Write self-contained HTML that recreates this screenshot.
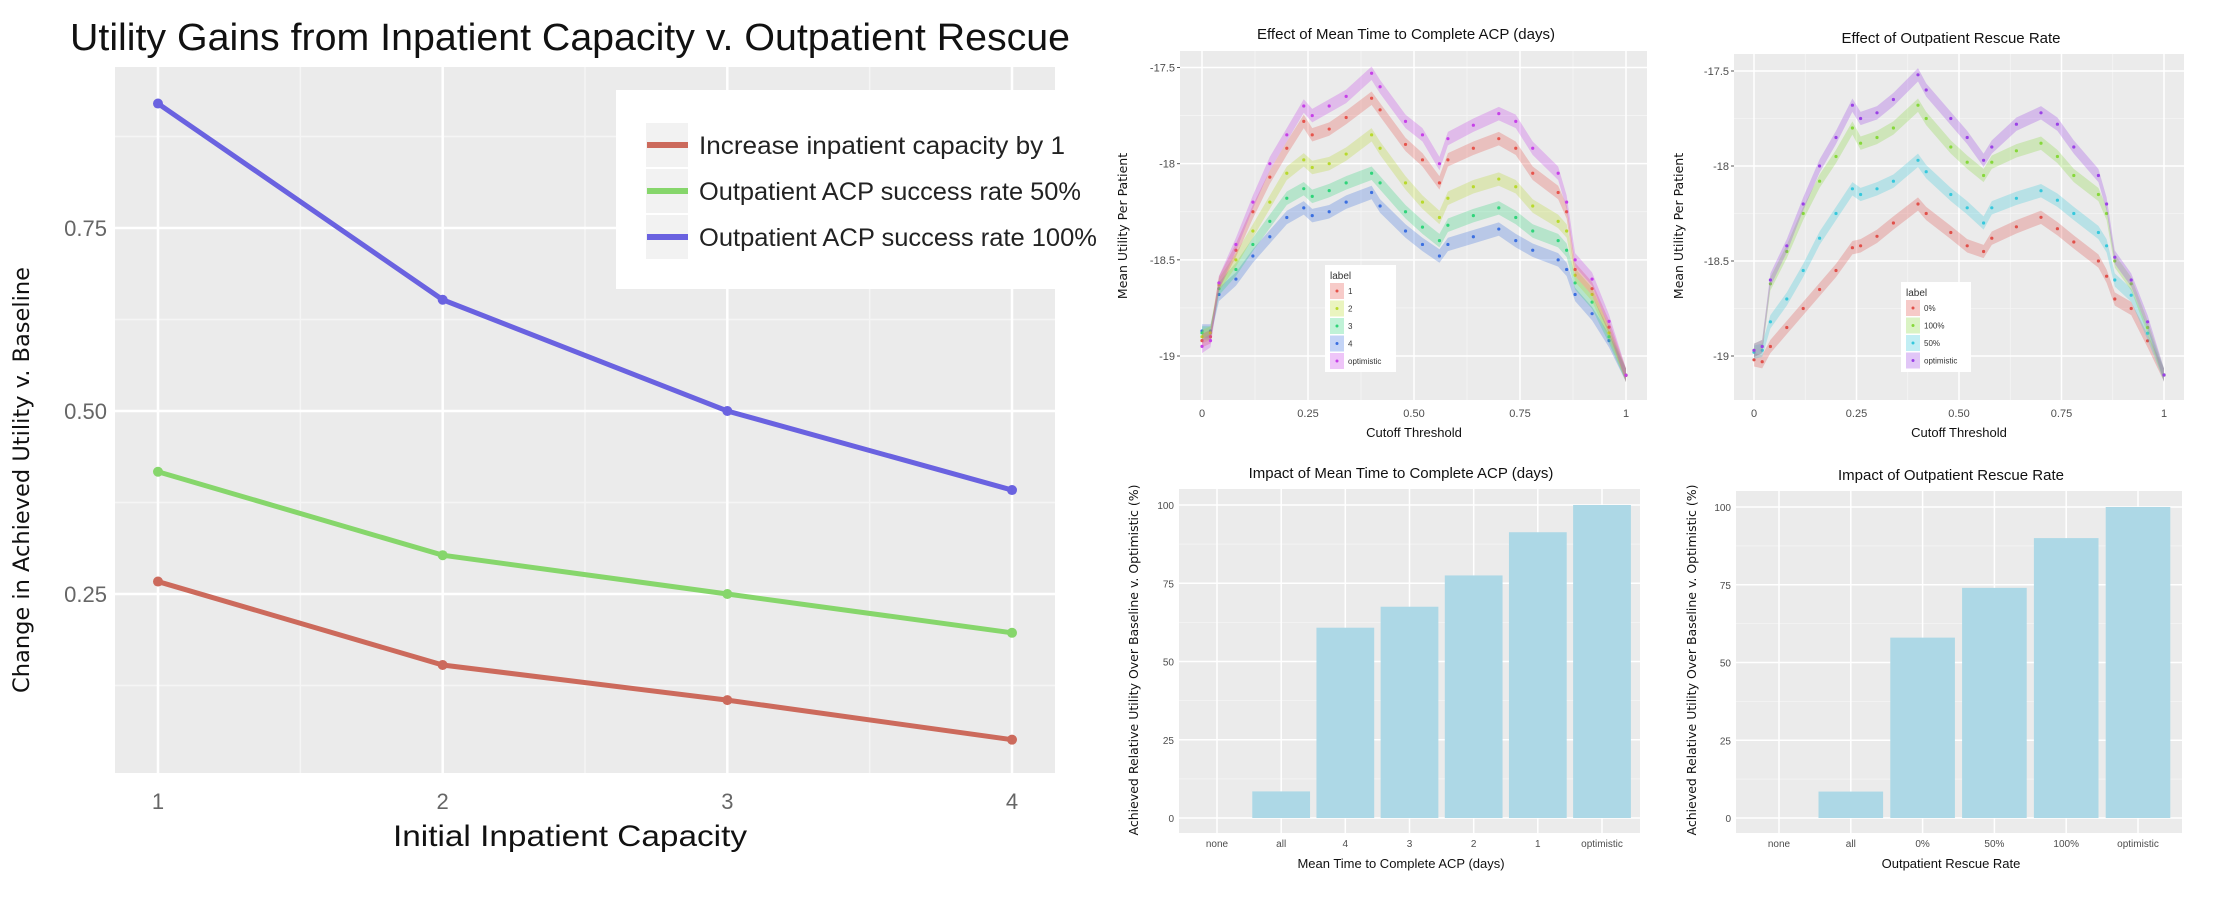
<!DOCTYPE html>
<html><head><meta charset="utf-8"><style>
html,body{margin:0;padding:0;background:#fff}
svg{display:block}
text{font-family:"Liberation Sans",sans-serif}
</style></head><body>
<svg id="svg" width="2234" height="902" xmlns="http://www.w3.org/2000/svg"></svg>
<script>
// ---------- Left line chart data ----------
const capCats = [1, 2, 3, 4];
const capRed = [0.267, 0.153, 0.105, 0.051];
const capGreen = [0.417, 0.303, 0.25, 0.197];
const capBlue = [0.92, 0.652, 0.50, 0.392];
const capTicks = [0.25, 0.50, 0.75];
const capLegend = ["Increase inpatient capacity by 1", "Outpatient ACP success rate 50%", "Outpatient ACP success rate 100%"];

// ---------- Cutoff charts data ----------
const cutX = [0,0.02,0.04,0.08,0.12,0.16,0.2,0.24,0.26,0.3,0.34,0.4,0.42,0.48,0.52,0.56,0.58,0.64,0.7,0.74,0.78,0.84,0.86,0.88,0.92,0.96,1.0];
const aLabels = ["1","2","3","4","optimistic"];
const aS1 = [-18.92,-18.9,-18.62,-18.45,-18.25,-18.07,-17.92,-17.78,-17.85,-17.82,-17.76,-17.66,-17.72,-17.9,-17.98,-18.1,-17.98,-17.92,-17.87,-17.92,-18.05,-18.15,-18.25,-18.55,-18.65,-18.85,-19.1];
const aS2 = [-18.9,-18.88,-18.63,-18.5,-18.35,-18.2,-18.05,-17.98,-18.02,-18.0,-17.95,-17.85,-17.92,-18.1,-18.2,-18.28,-18.18,-18.12,-18.08,-18.12,-18.22,-18.3,-18.35,-18.58,-18.68,-18.88,-19.1];
const aS3 = [-18.88,-18.88,-18.65,-18.55,-18.42,-18.3,-18.18,-18.13,-18.17,-18.14,-18.1,-18.05,-18.1,-18.25,-18.33,-18.4,-18.32,-18.27,-18.23,-18.28,-18.35,-18.4,-18.45,-18.62,-18.72,-18.9,-19.1];
const aS4 = [-18.87,-18.87,-18.68,-18.6,-18.48,-18.38,-18.28,-18.23,-18.27,-18.25,-18.2,-18.15,-18.22,-18.35,-18.42,-18.48,-18.42,-18.38,-18.34,-18.4,-18.45,-18.5,-18.55,-18.68,-18.78,-18.92,-19.1];
const aOpt = [-18.95,-18.92,-18.62,-18.42,-18.2,-18.0,-17.85,-17.7,-17.75,-17.7,-17.65,-17.53,-17.6,-17.78,-17.85,-18.0,-17.87,-17.8,-17.74,-17.78,-17.92,-18.05,-18.2,-18.5,-18.6,-18.82,-19.1];
const bLabels = ["0%","100%","50%","optimistic"];
const b0 = [-19.02,-19.03,-18.95,-18.85,-18.75,-18.65,-18.55,-18.43,-18.42,-18.37,-18.3,-18.2,-18.25,-18.35,-18.42,-18.45,-18.38,-18.32,-18.27,-18.33,-18.4,-18.5,-18.58,-18.7,-18.75,-18.92,-19.1];
const b100 = [-18.97,-18.95,-18.62,-18.45,-18.25,-18.08,-17.95,-17.8,-17.88,-17.85,-17.8,-17.68,-17.75,-17.9,-17.98,-18.05,-17.98,-17.92,-17.88,-17.95,-18.05,-18.15,-18.25,-18.5,-18.62,-18.85,-19.1];
const b50 = [-18.98,-18.97,-18.82,-18.7,-18.55,-18.38,-18.25,-18.12,-18.15,-18.12,-18.08,-17.97,-18.03,-18.15,-18.22,-18.3,-18.22,-18.17,-18.13,-18.18,-18.25,-18.35,-18.42,-18.6,-18.68,-18.88,-19.1];
const bOpt = [-18.97,-18.95,-18.6,-18.42,-18.2,-18.0,-17.85,-17.68,-17.75,-17.72,-17.65,-17.52,-17.6,-17.75,-17.85,-17.97,-17.9,-17.78,-17.72,-17.78,-17.9,-18.05,-18.2,-18.48,-18.6,-18.82,-19.1];
const cutXTicks = [0,0.25,0.5,0.75,1];
const cutXTickLabels = ["0","0.25","0.50","0.75","1"];
const cutYTicks = [-17.5,-18,-18.5,-19];
const cutYTickLabels = ["-17.5","-18","-18.5","-19"];

// ---------- Bar charts data ----------
const cCats = ["none","all","4","3","2","1","optimistic"];
const cVals = [0, 8.5, 60.8, 67.5, 77.5, 91.3, 100];
const dCats = ["none","all","0%","50%","100%","optimistic"];
const dVals = [0, 8.5, 58, 74, 90, 100];
const barTicks = [0,25,50,75,100];

const NS="http://www.w3.org/2000/svg";
const svg=document.getElementById('svg');
function mk(tag,attrs,parent,txt){const e=document.createElementNS(NS,tag);for(const k in attrs)e.setAttribute(k,attrs[k]);if(txt!==undefined)e.textContent=txt;(parent||svg).appendChild(e);return e;}
function lin(d0,d1,r0,r1){return v=>r0+(v-d0)/(d1-d0)*(r1-r0);}

// ===== Left chart =====
{
const g=mk('g',{});


const L=115,R=1055,T=67,B=773;
const x=lin(1,4,158,1012), y=lin(0.25,0.75,594,228);
const bg=mk('rect',{x:L,y:T,width:R-L,height:B-T,fill:'#ebebeb'},g);


[0.125,0.375,0.625,0.875].forEach(v=>mk('line',{x1:L,x2:R,y1:y(v),y2:y(v),stroke:'#f5f5f5','stroke-width':1.5},g));
[1.5,2.5,3.5].forEach(v=>mk('line',{x1:x(v),x2:x(v),y1:T,y2:B,stroke:'#f5f5f5','stroke-width':1.5},g));
capTicks.forEach(v=>{mk('line',{x1:L,x2:R,y1:y(v),y2:y(v),stroke:'#fff','stroke-width':2.5},g);
 const t=mk('text',{x:L-8,y:y(v)+8,'text-anchor':'end','font-size':22,fill:'#666'},g,v.toFixed(2));
 });
capCats.forEach(c=>{mk('line',{x1:x(c),x2:x(c),y1:T,y2:B,stroke:'#fff','stroke-width':2.5},g);
 const t=mk('text',{x:x(c),y:B+36,'text-anchor':'middle','font-size':22,fill:'#666'},g,String(c));
 });
const cols=['#cc6a5c','#86d66b','#6a62e0'];
[capRed,capGreen,capBlue].forEach((s,i)=>{
 const p=mk('polyline',{points:s.map((v,j)=>x(capCats[j])+','+y(v)).join(' '),fill:'none',stroke:cols[i],'stroke-width':5},g);
 
 s.forEach((v,j)=>{const c=mk('circle',{cx:x(capCats[j]),cy:y(v),r:5,fill:cols[i]},g);
  });
});
const lg=mk('g',{},g);

mk('rect',{x:616,y:90,width:439,height:199,fill:'#fff'},lg);
const lens=[366,382,398];
capLegend.forEach((s,i)=>{const yy=145+i*46;
 mk('rect',{x:646,y:yy-22,width:42,height:44,fill:'#f2f2f2'},lg);
 mk('line',{x1:647,x2:688,y1:yy,y2:yy,stroke:cols[i],'stroke-width':6},lg);
 const t=mk('text',{x:699,y:yy+9,'font-size':25,fill:'#222',textLength:lens[i],lengthAdjust:'spacingAndGlyphs'},lg,s);
 });
const tt=mk('text',{x:570,y:50,'text-anchor':'middle','font-size':38,fill:'#111',textLength:1000,lengthAdjust:'spacingAndGlyphs'},g,'Utility Gains from Inpatient Capacity v. Outpatient Rescue');

const xl=mk('text',{x:570,y:846,'text-anchor':'middle','font-size':30,fill:'#111',textLength:354,lengthAdjust:'spacingAndGlyphs'},g,'Initial Inpatient Capacity');

const yl=mk('text',{x:0,y:0,'text-anchor':'middle','font-size':22.5,fill:'#111',transform:'translate(29,480) rotate(-90)',style:'font-family:"DejaVu Sans",sans-serif'},g,'Change in Achieved Utility v. Baseline');

}

// ===== Cutoff charts =====
function cutChart(cfg){
const g=mk('g',{});


const {L,R,T,B}=cfg;
const x=lin(0,1,cfg.x0,cfg.x1), y=lin(-17.5,-19,cfg.yTop,cfg.yBot);
mk('rect',{x:L,y:T,width:R-L,height:B-T,fill:'#ebebeb'},g);
[-17.75,-18.25,-18.75,-19.25].forEach(v=>{if(y(v)>T&&y(v)<B)mk('line',{x1:L,x2:R,y1:y(v),y2:y(v),stroke:'#f5f5f5','stroke-width':0.8},g);});
[0.125,0.375,0.625,0.875].forEach(v=>mk('line',{x1:x(v),x2:x(v),y1:T,y2:B,stroke:'#f5f5f5','stroke-width':0.8},g));
cutYTicks.forEach((v,i)=>{mk('line',{x1:L,x2:R,y1:y(v),y2:y(v),stroke:'#fff','stroke-width':1.5},g);
 mk('line',{x1:L-3,x2:L,y1:y(v),y2:y(v),stroke:'#555','stroke-width':1},g);
 const t=mk('text',{x:L-5,y:y(v)+4,'text-anchor':'end','font-size':11,fill:'#4d4d4d'},g,cutYTickLabels[i]);
 });
cutXTicks.forEach((v,i)=>{mk('line',{x1:x(v),x2:x(v),y1:T,y2:B,stroke:'#fff','stroke-width':1.5},g);
 const t=mk('text',{x:x(v),y:B+17,'text-anchor':'middle','font-size':11,fill:'#4d4d4d'},g,cutXTickLabels[i]);
 });
cfg.series.forEach((s,i)=>{
 const col=cfg.cols[i];
 const up=s.map((v,j)=>x(cutX[j])+','+y(v+0.035)).join(' ');
 const dn=s.map((v,j)=>x(cutX[j])+','+y(v-0.035)).reverse().join(' ');
 const rb=mk('polygon',{points:up+' '+dn,fill:col,'fill-opacity':0.28},g);
 
 s.forEach((v,j)=>{const c=mk('circle',{cx:x(cutX[j]),cy:y(v),r:1.6,fill:col},g);
  });
});
const lg=mk('g',{},g);

const lx=cfg.lx, ly=cfg.ly;
mk('rect',{x:lx,y:ly,width:cfg.lw,height:cfg.lh,fill:'#fff'},lg);
mk('text',{x:lx+5,y:ly+14,'font-size':10,fill:'#333'},lg,'label');
cfg.labels.forEach((lab,i)=>{const yy=ly+26+i*17.5;
 mk('rect',{x:lx+5,y:yy-8,width:14,height:16,fill:cfg.lcols[i],'fill-opacity':0.3},lg);
 mk('circle',{cx:lx+12,cy:yy,r:1.5,fill:cfg.lcols[i]},lg);
 const t=mk('text',{x:lx+23,y:yy+3,'font-size':8,fill:'#333'},lg,lab);
 });
const tt=mk('text',{x:cfg.tx,y:cfg.ty,'text-anchor':'middle','font-size':15,fill:'#111'},g,cfg.title);

const xl=mk('text',{x:(cfg.x0+cfg.x1)/2,y:437,'text-anchor':'middle','font-size':13,fill:'#111'},g,'Cutoff Threshold');

const yl=mk('text',{x:0,y:0,'text-anchor':'middle','font-size':12.5,fill:'#111',transform:'translate('+cfg.ylx+',226) rotate(-90)',style:'font-family:"DejaVu Sans",sans-serif'},g,'Mean Utility Per Patient');

}
cutChart({name:'acp-time-effect-chart',L:1180,R:1647,T:51,B:400,x0:1202,x1:1626,yTop:67.5,yBot:356,
 series:[aS4,aS3,aS2,aS1,aOpt],cols:['#3b6fe0','#2fd47a','#b8d92c','#e6544c','#c640e8'],
 lcols:['#e6544c','#b8d92c','#2fd47a','#3b6fe0','#c640e8'],
 labels:aLabels,lx:1325,ly:265,lw:71,lh:107,tx:1406,ty:39,title:'Effect of Mean Time to Complete ACP (days)',ylx:1127});
cutChart({name:'rescue-rate-effect-chart',L:1734,R:2184,T:54,B:400,x0:1754,x1:2164,yTop:71,yBot:356,
 series:[b0,b50,b100,bOpt],cols:['#e0504a','#36c8dc','#86d83a','#9a42e6'],
 lcols:['#e0504a','#86d83a','#36c8dc','#9a42e6'],
 labels:bLabels,lx:1901,ly:282,lw:70,lh:90,tx:1951,ty:43,title:'Effect of Outpatient Rescue Rate',ylx:1683});

// ===== Bar charts =====
function barChart(cfg){
const g=mk('g',{});


const {L,R,T,B,cats,vals}=cfg;
const y=lin(0,100,cfg.y0,cfg.y100);
const step=(cfg.cLast-cfg.cFirst)/(cats.length-1);
const x=i=>cfg.cFirst+i*step;
mk('rect',{x:L,y:T,width:R-L,height:B-T,fill:'#ebebeb'},g);
[12.5,37.5,62.5,87.5].forEach(v=>mk('line',{x1:L,x2:R,y1:y(v),y2:y(v),stroke:'#f5f5f5','stroke-width':0.8},g));
barTicks.forEach(v=>{mk('line',{x1:L,x2:R,y1:y(v),y2:y(v),stroke:'#fff','stroke-width':1.5},g);
 const t=mk('text',{x:L-5,y:y(v)+4,'text-anchor':'end','font-size':10,fill:'#4d4d4d'},g,String(v));
 });
cats.forEach((c,i)=>{mk('line',{x1:x(i),x2:x(i),y1:T,y2:B,stroke:'#fff','stroke-width':1.5},g);
 const t=mk('text',{x:x(i),y:B+14,'text-anchor':'middle','font-size':10,fill:'#4d4d4d'},g,c);
 });
vals.forEach((v,i)=>{if(v<=0)return;const bw=step*0.9;
 const r=mk('rect',{x:x(i)-bw/2,y:y(v),width:bw,height:y(0)-y(v),fill:'#add8e6'},g);
 });
const tt=mk('text',{x:cfg.tx,y:cfg.ty,'text-anchor':'middle','font-size':15,fill:'#111'},g,cfg.title);

const xl=mk('text',{x:cfg.tx,y:868,'text-anchor':'middle','font-size':13,fill:'#111'},g,cfg.xlabel);

const yl=mk('text',{x:0,y:0,'text-anchor':'middle','font-size':12.5,fill:'#111',transform:'translate('+cfg.ylx+',660) rotate(-90)',style:'font-family:"DejaVu Sans",sans-serif'},g,'Achieved Relative Utility Over Baseline v. Optimistic (%)');

}
barChart({name:'acp-time-impact-chart',L:1179,R:1640,T:489,B:833,y0:818,y100:505,cats:cCats,vals:cVals,cFirst:1217,cLast:1602,
 tx:1401,ty:478,title:'Impact of Mean Time to Complete ACP (days)',xlabel:'Mean Time to Complete ACP (days)',ylx:1138});
barChart({name:'rescue-rate-impact-chart',L:1736,R:2182,T:491,B:833,y0:818,y100:507,cats:dCats,vals:dVals,cFirst:1779,cLast:2138,
 tx:1951,ty:480,title:'Impact of Outpatient Rescue Rate',xlabel:'Outpatient Rescue Rate',ylx:1696});
</script>
</body></html>
